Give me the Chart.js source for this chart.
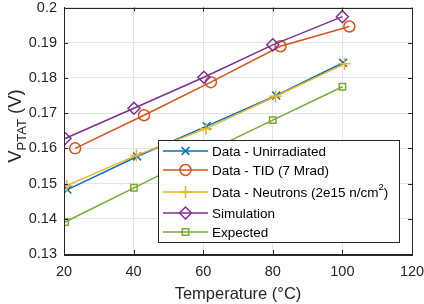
<!DOCTYPE html>
<html>
<head>
<meta charset="utf-8">
<script src="https://cdn.jsdelivr.net/npm/chart.js@4/dist/chart.umd.min.js"></script>
<style>
  body { margin: 0; background: #fff; }
</style>
</head>
<body>
<canvas id="chart" width="424" height="304"></canvas>
<script>
// values
const tUnirr = [21, 41, 61, 81, 100.2];
const vUnirr = [0.1483, 0.1577, 0.1663, 0.1750, 0.1843];
const tTid = [23.2, 43, 62.2, 82.2, 102];
const vTid = [0.1600, 0.1694, 0.1788, 0.1890, 0.1946];
const tNeut = [20.8, 40.8, 60.8, 80.8, 100.6];
const vNeut = [0.1494, 0.1580, 0.1656, 0.1748, 0.1840];
const tSim = [20.3, 40.1, 60.2, 80, 100];
const vSim = [0.1628, 0.1714, 0.1802, 0.1894, 0.1974];
const tExp = [20.3, 40.1, 60, 80, 100];
const vExp = [0.1391, 0.1488, 0.1585, 0.1680, 0.1775];

const seriesNames = [
    'Data - Unirradiated',
    'Data - TID (7 Mrad)',
    'Data - Neutrons (2e15 n/cm^2)',
    'Simulation',
    'Expected'
];
const xTicks = [20, 40, 60, 80, 100, 120];
const yTicks = [0.13, 0.14, 0.15, 0.16, 0.17, 0.18, 0.19, 0.2];

const FONT = '"Liberation Sans", Arial, sans-serif';
const INK = '#262626';

function pts(xs, ys) {
    return xs.map((x, i) => ({ x: x, y: ys[i] }));
}

// later series drawn on top (as in matlab)
function series(idx, xs, ys, color, style, r) {
    return {
        label: seriesNames[idx],
        order: seriesNames.length - idx,
        data: pts(xs, ys),
        borderColor: color,
        backgroundColor: 'rgba(0,0,0,0)',
        borderWidth: 1.5,
        pointStyle: style,
        pointRadius: r,
        pointBorderWidth: 1.5,
        pointBorderColor: color,
        pointBackgroundColor: 'rgba(0,0,0,0)',
        tension: 0
    };
}

// draw one marker (for the legend)
function marker(ctx, style, x, y, r) {
    ctx.beginPath();
    if (style === 'circle') {
        ctx.arc(x, y, r, 0, Math.PI * 2);
    } else if (style === 'rect') {
        const s = r * Math.SQRT1_2;
        ctx.rect(x - s, y - s, 2 * s, 2 * s);
    } else if (style === 'rectRot') {
        ctx.moveTo(x, y - r); ctx.lineTo(x + r, y); ctx.lineTo(x, y + r); ctx.lineTo(x - r, y); ctx.closePath();
    } else if (style === 'cross') {
        ctx.moveTo(x, y - r); ctx.lineTo(x, y + r); ctx.moveTo(x - r, y); ctx.lineTo(x + r, y);
    } else if (style === 'crossRot') {
        const s = r * Math.SQRT1_2;
        ctx.moveTo(x - s, y - s); ctx.lineTo(x + s, y + s); ctx.moveTo(x + s, y - s); ctx.lineTo(x - s, y + s);
    }
    ctx.stroke();
}

// box, inward ticks, y title with subscript, legend inside the axes
const matlabLook = {
    id: 'matlabLook',
    afterDraw(chart) {
        const ctx = chart.ctx;
        const a = chart.chartArea;
        const xs = chart.scales.x, ys = chart.scales.y;
        ctx.save();
        ctx.strokeStyle = INK;
        ctx.lineWidth = 1;
        ctx.strokeRect(Math.round(a.left) + 0.5, Math.round(a.top) + 0.5,
            Math.round(a.right - a.left), Math.round(a.bottom - a.top));
        ctx.beginPath();
        xTicks.forEach(v => {
            const px = Math.round(xs.getPixelForValue(v)) + 0.5;
            ctx.moveTo(px, a.bottom); ctx.lineTo(px, a.bottom - 4);
            ctx.moveTo(px, a.top); ctx.lineTo(px, a.top + 4);
        });
        yTicks.forEach(v => {
            const py = Math.round(ys.getPixelForValue(v)) + 0.5;
            ctx.moveTo(a.left, py); ctx.lineTo(a.left + 4, py);
            ctx.moveTo(a.right, py); ctx.lineTo(a.right - 4, py);
        });
        ctx.stroke();

        // y axis title: V_PTAT (V)
        ctx.fillStyle = INK;
        ctx.textBaseline = 'alphabetic';
        ctx.translate(21, 126);
        ctx.rotate(-Math.PI / 2);
        ctx.font = '18.5px ' + FONT;
        const wV = ctx.measureText('V').width;
        const wU = ctx.measureText(' (V)').width;
        ctx.font = '13px ' + FONT;
        const wS = ctx.measureText('PTAT').width;
        let x0 = -(wV + wS + wU) / 2;
        ctx.font = '18.5px ' + FONT;
        ctx.fillText('V', x0, 0);
        ctx.font = '13px ' + FONT;
        ctx.fillText('PTAT', x0 + wV, 5);
        ctx.font = '18.5px ' + FONT;
        ctx.fillText(' (V)', x0 + wV + wS, 0);
        ctx.setTransform(1, 0, 0, 1, 0, 0);

        // legend
        const box = { x: 158.5, y: 140.5, w: 241, h: 102 };
        const rows = [151, 170, 192, 213, 232];
        ctx.fillStyle = '#fff';
        ctx.fillRect(box.x, box.y, box.w, box.h);
        ctx.strokeStyle = INK;
        ctx.lineWidth = 1;
        ctx.strokeRect(box.x, box.y, box.w, box.h);
        chart.data.datasets.forEach((ds, i) => {
            const y = rows[i];
            ctx.strokeStyle = ds.borderColor;
            ctx.lineWidth = 1.5;
            ctx.beginPath();
            ctx.moveTo(163, y); ctx.lineTo(208, y);
            ctx.stroke();
            marker(ctx, ds.pointStyle, 185.5, y, ds.pointRadius);
            ctx.fillStyle = '#000';
            ctx.textBaseline = 'middle';
            ctx.font = '13.5px ' + FONT;
            const sup = ds.label.indexOf('^');
            if (sup < 0) {
                ctx.fillText(ds.label, 212, y + 1);
            } else {
                // "...n/cm^2)" : raise the 2
                const head = ds.label.slice(0, sup);
                const exp = ds.label.charAt(sup + 1);
                const tail = ds.label.slice(sup + 2);
                let px = 212;
                ctx.fillText(head, px, y + 1);
                px += ctx.measureText(head).width;
                ctx.font = '9.5px ' + FONT;
                ctx.fillText(exp, px, y - 5);
                px += ctx.measureText(exp).width;
                ctx.font = '13.5px ' + FONT;
                ctx.fillText(tail, px, y + 1);
            }
        });
        ctx.restore();
    }
};

const ctx = document.getElementById('chart').getContext('2d');
const myChart = new Chart(ctx, {
    type: 'line',
    data: {
        datasets: [
            series(0, tUnirr, vUnirr, '#0072BD', 'crossRot', 5.5),
            series(1, tTid, vTid, '#D95319', 'circle', 5.5),
            series(2, tNeut, vNeut, '#EDB120', 'cross', 6),
            series(3, tSim, vSim, '#7E2F8E', 'rectRot', 6),
            series(4, tExp, vExp, '#77AC30', 'rect', 4.5)
        ]
    },
    options: {
        responsive: false,
        animation: false,
        layout: { padding: { top: 6, right: 12, left: 0, bottom: 0 } },
        plugins: {
            legend: { display: false },
            tooltip: { enabled: false }
        },
        scales: {
            x: {
                type: 'linear',
                min: 20,
                max: 120,
                afterBuildTicks: s => { s.ticks = xTicks.map(v => ({ value: v })); },
                afterFit: s => { s.height = 50; s.paddingLeft = 0; s.paddingRight = 0; },
                grid: { color: '#e3e3e3', drawTicks: false },
                border: { color: INK },
                ticks: { color: INK, padding: 9, font: { family: FONT, size: 14.5 } },
                title: {
                    display: true,
                    text: 'Temperature (°C)',
                    color: INK,
                    padding: { top: 2, bottom: 0 },
                    font: { family: FONT, size: 16.5 }
                }
            },
            y: {
                type: 'linear',
                min: 0.13,
                max: 0.2,
                afterBuildTicks: s => { s.ticks = yTicks.map(v => ({ value: v })); },
                afterFit: s => { s.width = 64; s.paddingTop = 0; s.paddingBottom = 0; },
                grid: { color: '#e3e3e3', drawTicks: false },
                border: { color: INK },
                ticks: {
                    color: INK,
                    padding: 7,
                    font: { family: FONT, size: 14.5 },
                    callback: v => String(+v.toFixed(2))
                }
            }
        }
    },
    plugins: [matlabLook]
});
</script>
</body>
</html>
